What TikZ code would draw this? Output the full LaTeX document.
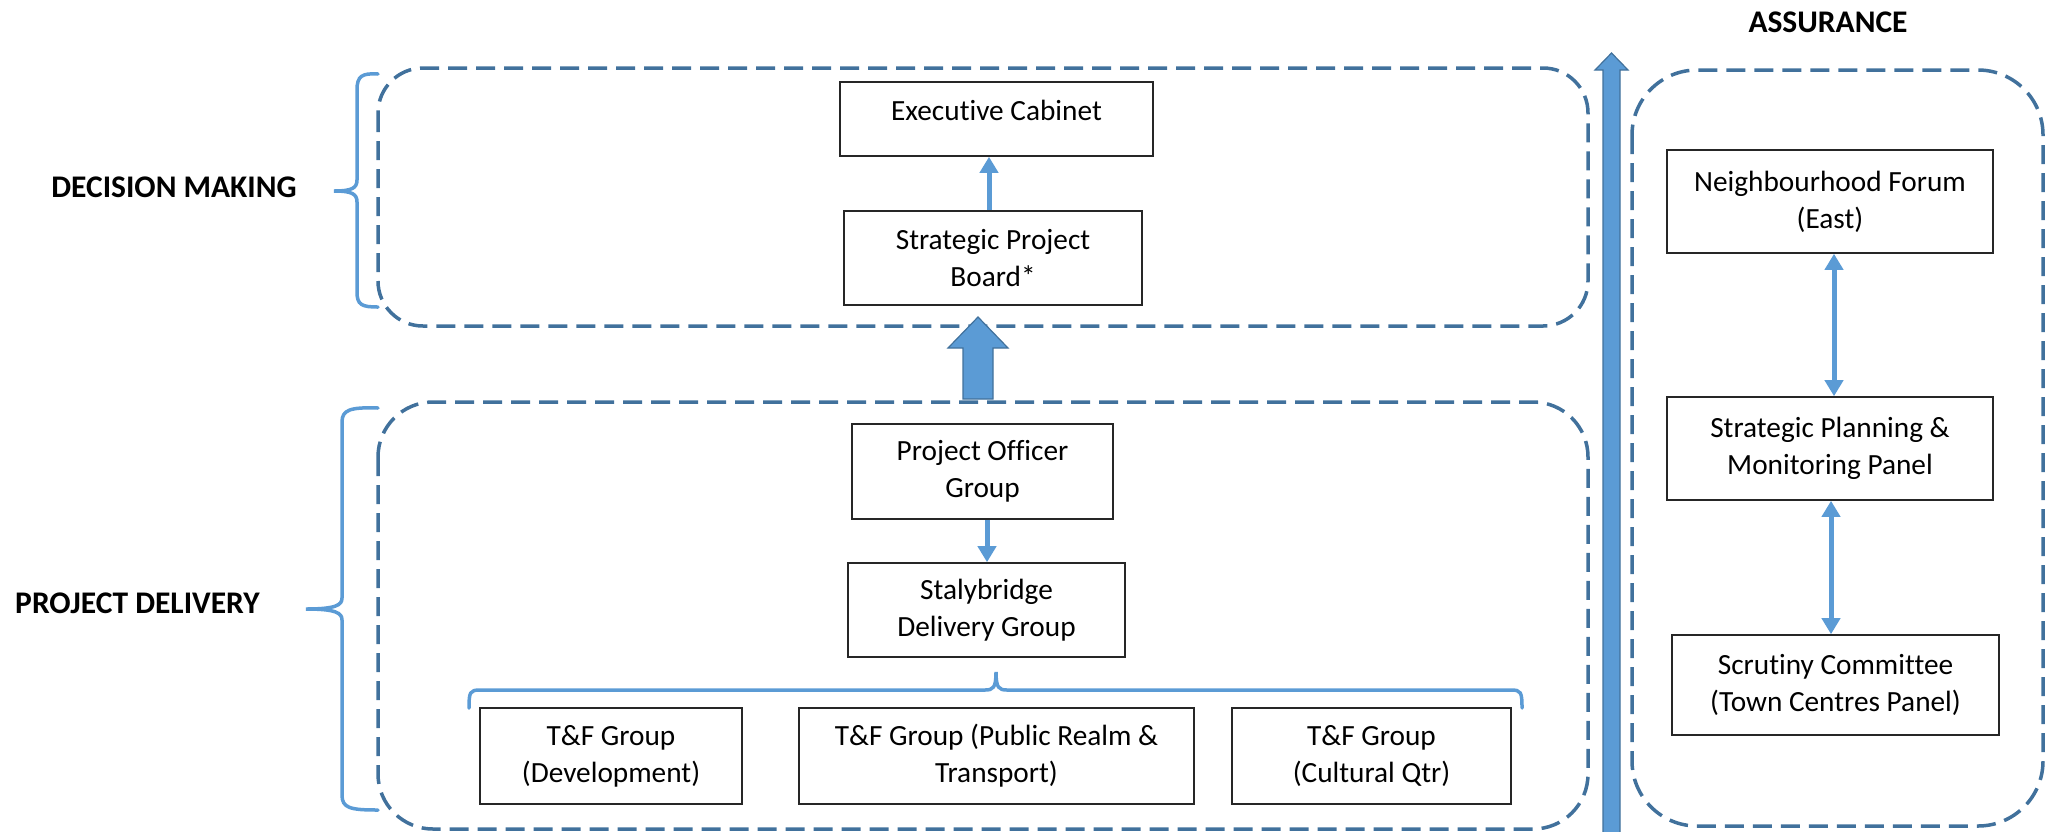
\documentclass[tikz,border=0pt]{standalone}
\usepackage{fontspec}
\setmainfont{Carlito}[Ligatures={NoCommon}]
\usetikzlibrary{arrows.meta}
\definecolor{lblue}{HTML}{5B9BD5}
\definecolor{dblue}{HTML}{41719C}
\begin{document}
\begin{tikzpicture}[x=1pt,y=-1pt,
  box/.style={draw=black!85,line width=1.6pt,fill=white,inner sep=0pt,align=center,
    font=\fontsize{29.3}{37}\selectfont},
  group/.style={draw=dblue,line width=3.5pt,dash pattern=on 19pt off 9pt,rounded corners=#1},
  lab/.style={inner sep=0pt,font=\fontsize{31.5}{38}\selectfont\bfseries},
  brace/.style={draw=lblue,line width=3.5pt,line cap=round},
  arr/.style={draw=lblue,line width=5pt,-{Triangle[width=18pt,length=16pt]}},
  darr/.style={draw=lblue,line width=5pt,{Triangle[width=18pt,length=16pt]}-{Triangle[width=18pt,length=16pt]}},
  blockarrow/.style={fill=lblue,draw=dblue,line width=1.2pt,line join=miter}
]
\useasboundingbox (0,0) rectangle (2047,831);
\clip (0,0) rectangle (2047,831);

% group frames
\draw[group=45] (378,68) rectangle (1588,326);
\draw[group=55] (378,402) rectangle (1588,829);
\draw[group=65] (1632,70) rectangle (2043,826);

% labels
\node[lab] (dm) at (174,187) {DECISION MAKING};
\node[lab] (pd) at (137.5,603) {PROJECT DELIVERY};
\node[lab] (as) at (1828,22) {ASSURANCE};

% braces
\draw[brace] (378,74) .. controls (362,73) and (357,76) .. (357,90) -- (357,180)
  .. controls (357,188) and (352,191) .. (334,191)
  .. controls (352,191) and (357,194) .. (357,202) -- (357,292)
  .. controls (357,305) and (362,307) .. (378,307);
\draw[brace] (378,408) .. controls (350,407) and (342,410) .. (342,422) -- (342,598)
  .. controls (342,605) and (336,609) .. (306,609)
  .. controls (336,609) and (342,613) .. (342,620) -- (342,795)
  .. controls (342,808) and (350,810) .. (378,810);
\draw[brace] (469,708) .. controls (469,692) and (470,690) .. (480,690) -- (985,690)
  .. controls (993,690) and (996,688) .. (996,672)
  .. controls (996,688) and (999,690) .. (1007,690) -- (1511,690)
  .. controls (1521,690) and (1522,692) .. (1522,708);

% boxes
\node[box,minimum width=313pt,minimum height=74pt,text depth=18pt] (exec) at (996.5,119) {Executive Cabinet};
\node[box,minimum width=298pt,minimum height=94pt] (spb) at (993,258) {Strategic Project\\Board*};
\node[box,minimum width=261pt,minimum height=95pt] (pog) at (982.5,471.5) {Project Officer\\Group};
\node[box,minimum width=277pt,minimum height=94pt] (sdg) at (986.5,610) {Stalybridge\\Delivery Group};
\node[box,minimum width=262pt,minimum height=96pt] (dev) at (611,756) {T\&F Group\\(Development)};
\node[box,minimum width=395pt,minimum height=96pt] (pub) at (996.5,756) {T\&F Group (Public Realm \&\\Transport)};
\node[box,minimum width=279pt,minimum height=96pt] (cul) at (1371.5,756) {T\&F Group\\(Cultural Qtr)};
\node[box,minimum width=326pt,minimum height=103pt] (nf) at (1830,201.5) {Neighbourhood Forum\\(East)};
\node[box,minimum width=326pt,minimum height=103pt] (spm) at (1830,448.5) {Strategic Planning \&\\Monitoring Panel};
\node[box,minimum width=327pt,minimum height=100pt] (scr) at (1835.5,685) {Scrutiny Committee\\(Town Centres Panel)};

% connectors
\draw[arr] ([xshift=-4pt]spb.north) -- ([xshift=-4pt]spb.north |- exec.south);
\draw[arr] ([xshift=4.5pt]pog.south) -- ([xshift=4.5pt]pog.south |- sdg.north);
\draw[darr] ([xshift=4pt]nf.south) -- ([xshift=4pt]nf.south |- spm.north);
\draw[darr] ([xshift=1pt]spm.south) -- ([xshift=1pt]spm.south |- scr.north);

% block arrows
\draw[blockarrow] (963,399) -- (963,348) -- (948,348) -- (978,317) -- (1008,348) -- (993,348) -- (993,399) -- cycle;
\draw[blockarrow] (1603,840) -- (1603,70) -- (1595,70) -- (1611.5,53) -- (1628,70) -- (1620,70) -- (1620,840) -- cycle;
\end{tikzpicture}
\end{document}
